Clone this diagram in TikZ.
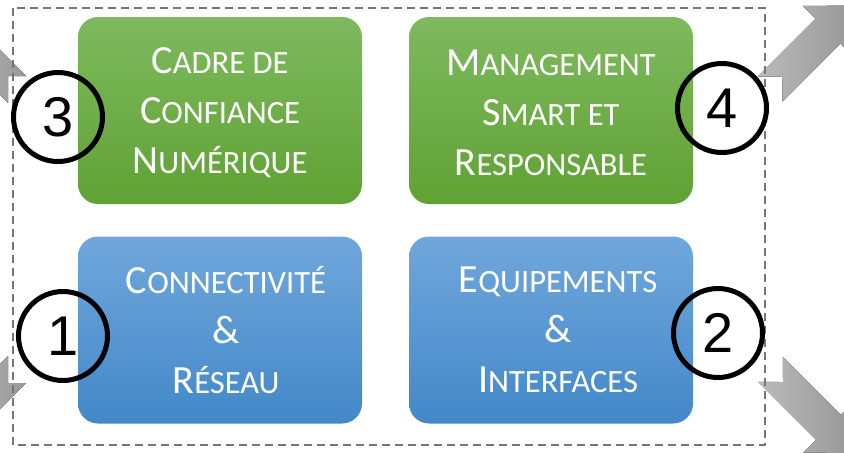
\documentclass[tikz,border=0pt]{standalone}
\usepackage{fontspec}
\newfontfamily\boxfont{Carlito}
\newfontfamily\numfont{Liberation Sans}
\definecolor{greentop}{RGB}{126,185,94}
\definecolor{greenbot}{RGB}{96,162,52}
\definecolor{bluetop}{RGB}{112,167,220}
\definecolor{bluebot}{RGB}{67,136,200}
\definecolor{framegray}{RGB}{118,118,118}
\definecolor{arrowlight}{RGB}{186,186,186}
\definecolor{arrowdark}{RGB}{152,152,152}
% initiale en grand corps
\newcommand\capl[1]{{\fontsize{40}{50}\selectfont #1}}
% fleche a queue entaillee, le long de l'axe x
\def\drawnotch#1{
   \fill[arrow fill] (0,-17.5) -- (#1,-17.5) -- (#1,-35.5) -- (#1+36,0)
      -- (#1,35.5) -- (#1,17.5) -- (0,17.5) -- (17.7,0) -- cycle;
}
\begin{document}
\begin{tikzpicture}[
    x = 1pt, y = -1pt,
    block/.style  = { rounded corners=20pt, minimum width=284pt,
                      minimum height=187pt, inner sep=0pt },
    gblock/.style = { block, top color=greentop, bottom color=greenbot },
    bblock/.style = { block, top color=bluetop,  bottom color=bluebot },
    blocktext/.style = { text=white, align=center, inner sep=0pt,
                      font=\boxfont\fontsize{32.5}{50}\selectfont },
    numc/.style   = { circle, draw, line width=5pt, minimum size=89pt,
                      inner sep=0pt, font=\numfont\fontsize{56}{60}\selectfont },
    frame line/.style = { framegray, line width=2.2pt, dash pattern=on 8pt off 5pt },
    arrow fill/.style = { left color=arrowlight, right color=arrowdark }
]
\useasboundingbox (0,0) rectangle (844,453);

\foreach \px/\py/\ang/\len in {770/89/45/82, 770.5/369.5/-45/82,
                               -9.5/103/90/27, -9.5/356/-90/27}
{
  \begin{scope}[shift={(\px,\py)}, rotate=\ang]
    \drawnotch{\len}
  \end{scope}
}

\draw[frame line] (13,8) rectangle (765,445);

\node[gblock] (cadre)  at (220,110.5) {};
\node[gblock] (mgmt)   at (551,110.5) {};
\node[bblock] (connex) at (220,330)   {};
\node[bblock] (equip)  at (551,330)   {};

\node[blocktext, yshift=-2pt] (cadre-t) at (cadre)
  {\capl{C}ADRE DE\\\capl{C}ONFIANCE\\\capl{N}UMÉRIQUE};
\node[blocktext, yshift=-2pt] (mgmt-t) at (mgmt)
  {\capl{M}ANAGEMENT\\\capl{S}MART ET\\\capl{R}ESPONSABLE};
\node[blocktext, xshift=6pt] (connex-t) at (connex)
  {\capl{C}ONNECTIVITÉ\\\capl{\&}\\\capl{R}ÉSEAU};
\node[blocktext, xshift=7pt] (equip-t) at (equip)
  {\capl{E}QUIPEMENTS\\\capl{\&}\\\capl{I}NTERFACES};

\foreach \n/\px/\py in {3/58/117, 4/722/108, 1/63/336, 2/718/333}
  \node[numc] (num\n) at (\px,\py) {\n};

\end{tikzpicture}
\end{document}
